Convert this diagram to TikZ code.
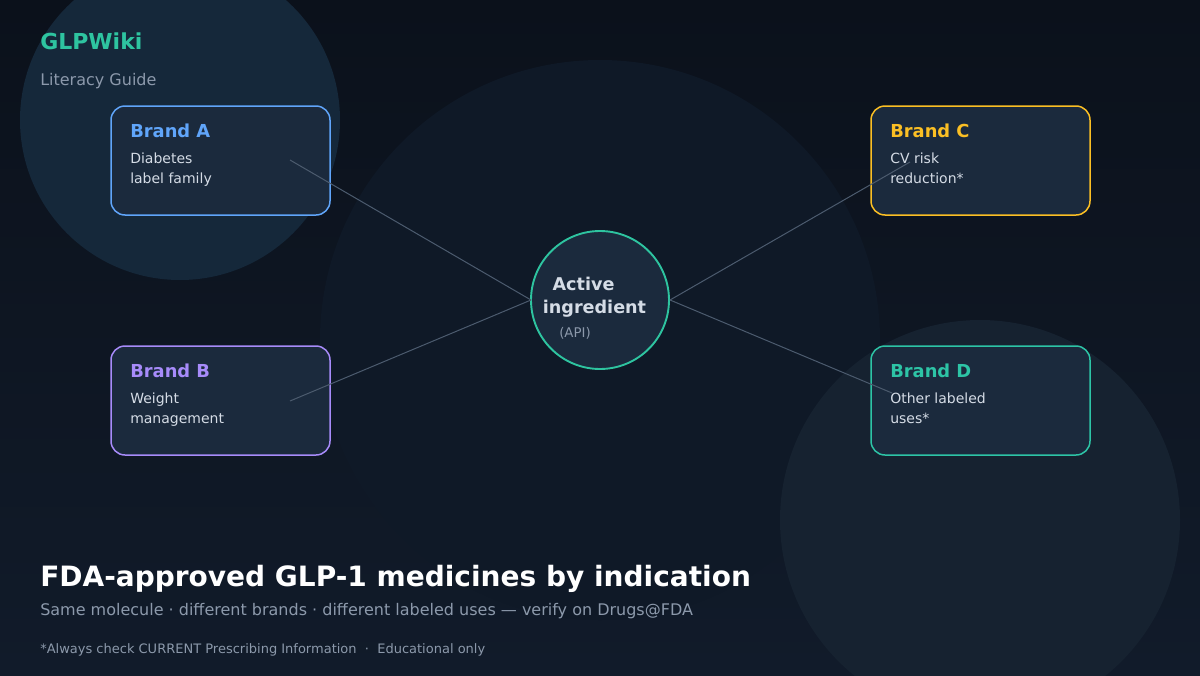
\documentclass[tikz,border=0pt]{standalone}
\usepackage{fontspec}
\setmainfont{DejaVu Sans}
\begin{document}
\begin{tikzpicture}[x=0.75pt,y=-0.75pt,
  brandbox/.style={draw=#1, line width=1.5pt*0.75, fill=boxfill, rounded corners=10.5pt},
  brandtitle/.style={anchor=base west, text=#1, font=\fontsize{13.4}{15}\selectfont\bfseries, inner sep=0pt},
  bodytext/.style={anchor=base west, text=bodycol, font=\fontsize{10.5}{15}\selectfont, inner sep=0pt, align=left},
  link/.style={draw=linkcol, line width=0.75pt}
]
\definecolor{bgtop}{HTML}{0B111B}
\definecolor{bgbot}{HTML}{111B2A}
\definecolor{circA}{HTML}{15283A}
\definecolor{circB}{HTML}{0F1927}
\definecolor{circC}{HTML}{162230}
\definecolor{boxfill}{HTML}{1B2A3D}
\definecolor{colA}{HTML}{60A5FA}
\definecolor{colB}{HTML}{A78BFA}
\definecolor{colC}{HTML}{FBBF24}
\definecolor{colD}{HTML}{2DC4A6}
\definecolor{teal}{HTML}{2EC4A0}
\definecolor{bodycol}{HTML}{D5DCE6}
\definecolor{mutecol}{HTML}{8C99AB}
\definecolor{linkcol}{HTML}{4C5B6E}
\useasboundingbox (0,0) rectangle (1200,675);
\shade[top color=bgtop, bottom color=bgbot] (0,0) rectangle (1200,675);
\begin{scope}
\clip (0,0) rectangle (1200,675);
\fill[circA] (180,120) circle[radius=160];
\fill[circB] (600,340) circle[radius=280];
\fill[circC] (980,520) circle[radius=200];
\end{scope}
% header
\node[anchor=base west, inner sep=0pt, text=teal, font=\fontsize{16.5}{18}\selectfont\bfseries] (brand) at (40,49) {GLPWiki};
\node[anchor=base west, inner sep=0pt, text=mutecol, font=\fontsize{12}{14}\selectfont] (sub) at (40,85) {Literacy Guide};
% boxes
\path[brandbox=colA] (111,106) rectangle (330,215);
\path[brandbox=colB] (111,346) rectangle (330,455);
\path[brandbox=colC] (871,106) rectangle (1090,215);
\path[brandbox=colD] (871,346) rectangle (1090,455);
\node[brandtitle=colA] (ta) at (130,137) {Brand A};
\node[bodytext] (ba1) at (130,163) {Diabetes};
\node[bodytext] (ba2) at (130,183) {label family};
\node[brandtitle=colB] (tb) at (130,377) {Brand B};
\node[bodytext] (bb1) at (130,403) {Weight};
\node[bodytext] (bb2) at (130,423) {management};
\node[brandtitle=colC] (tc) at (890,137) {Brand C};
\node[bodytext] (bc1) at (890,163) {CV risk};
\node[bodytext] (bc2) at (890,183) {reduction*};
\node[brandtitle=colD] (td) at (890,377) {Brand D};
\node[bodytext] (bd1) at (890,403) {Other labeled};
\node[bodytext] (bd2) at (890,423) {uses*};
% center
\node[circle, draw=teal, line width=1.9pt*0.75, fill=boxfill, minimum size=138*0.75pt, inner sep=0pt] (api) at (600,300) {};
\node[anchor=base, inner sep=0pt, text=bodycol, font=\fontsize{13.2}{15}\selectfont\bfseries] (act) at (583.5,290) {Active};
\node[anchor=base, inner sep=0pt, text=bodycol, font=\fontsize{13.2}{15}\selectfont\bfseries] (ing) at (594.5,313) {ingredient};
\node[anchor=base, inner sep=0pt, text=mutecol, font=\fontsize{10}{12}\selectfont] (apil) at (575,337) {(API)};
% connectors
\coordinate (ea) at (290,160);
\coordinate (eb) at (290,401);
\coordinate (ec) at (910,162);
\coordinate (ed) at (892,393);
\coordinate (cl) at (531,300);
\coordinate (cr) at (670,300);
\draw[link] (ea) -- (cl);
\draw[link] (eb) -- (cl);
\draw[link] (cr) -- (ec);
\draw[link] (cr) -- (ed);
% footer
\node[anchor=base west, inner sep=0pt, text=white, font=\fontsize{21}{24}\selectfont\bfseries] (title) at (40,586) {FDA-approved GLP-1 medicines by indication};
\node[anchor=base west, inner sep=0pt, text=mutecol, font=\fontsize{12}{14}\selectfont] (subt) at (40,615) {Same molecule · different brands · different labeled uses — verify on Drugs@FDA};
\node[anchor=base west, inner sep=0pt, text=mutecol, font=\fontsize{9.75}{12}\selectfont] (foot) at (40,653) {*Always check CURRENT Prescribing Information \ · \ Educational only};
\end{tikzpicture}
\end{document}
